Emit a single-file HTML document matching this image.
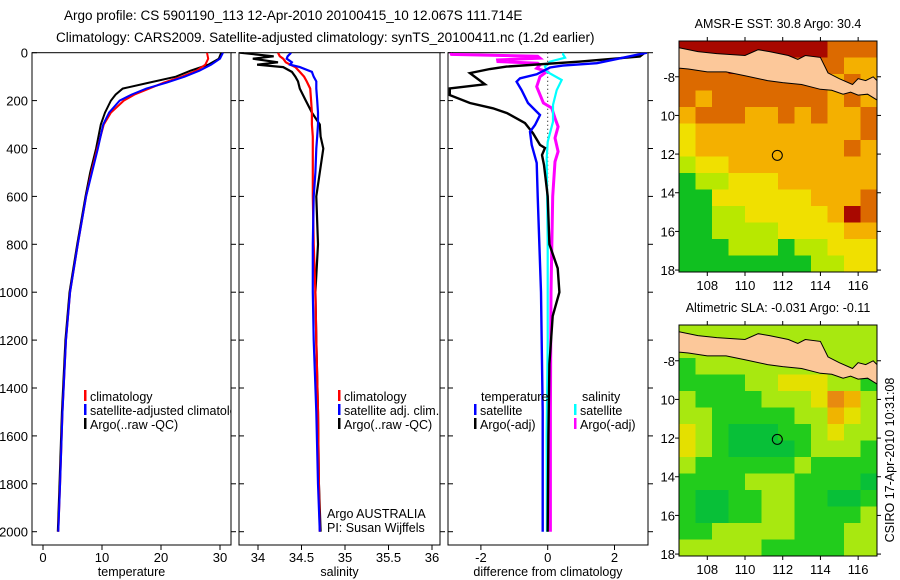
<!DOCTYPE html>
<html><head><meta charset="utf-8">
<style>
html,body{margin:0;padding:0;background:#fff;}
svg{display:block;font-family:"Liberation Sans",sans-serif;}
text{fill:#000;}
</style></head>
<body>
<svg id="chart" width="900" height="580" viewBox="0 0 900 580" xmlns="http://www.w3.org/2000/svg">
<text x="64" y="20" font-size="13.5">Argo profile: CS 5901190_113 12-Apr-2010 20100415_10 12.067S 111.714E</text>
<text x="56" y="42" font-size="13.5">Climatology: CARS2009. Satellite-adjusted climatology: synTS_20100411.nc (1.2d earlier)</text>
<g id="plots"></g>
</svg>
<script>
// ---------- data ----------
const tDepth = [0,25,50,75,100,125,150,175,200,250,300,400,500,600,800,1000,1200,1500,1800,2000];
const tClim  = [27.8,28,27.5,26,23.5,20.5,18,15.5,13.7,11.5,10.3,9.2,8.2,7.3,5.9,4.6,3.9,3.3,2.9,2.6];
const tSat   = [30.5,30,28.5,26.5,24,21,17.5,15,13,11.2,10.2,9.3,8.3,7.3,5.9,4.6,3.9,3.3,2.9,2.6];
const tArgo  = [30.2,29.8,28,25,22.5,18,13.5,12.3,11.5,10.5,9.8,9,8,7.2,5.8,4.5,3.8,3.2,2.8,2.5];

const sDepth = [0,15,25,40,50,60,80,100,120,150,200,250,300,350,400,500,600,800,1000,1200,1500,1800,2000];
const sClim  = [34.23,34.25,34.29,34.32,34.37,34.43,34.48,34.53,34.56,34.60,34.61,34.62,34.62,34.63,34.63,34.63,34.63,34.64,34.66,34.67,34.69,34.70,34.71];
const sSat   = [34.38,34.34,34.33,34.39,34.37,34.48,34.62,34.64,34.67,34.67,34.68,34.69,34.69,34.68,34.67,34.66,34.64,34.63,34.63,34.64,34.67,34.69,34.71];
const sArgo  = [33.79,34.18,33.94,34.23,33.99,34.29,34.39,34.43,34.46,34.48,34.55,34.62,34.71,34.72,34.75,34.71,34.67,34.69,34.66,34.67,34.69,34.70,34.72];

const dTArgoDepth = [0,3,16,37,58,68,85,132,149,177,210,232,252,294,336,385,398,427,469,600,800,900,1000,1100,1300,1600,2000];
const dTArgo      = [2.9,2.88,2.76,0.97,-1.23,-1.73,-2.33,-1.88,-2.93,-2.93,-2.33,-1.64,-1.22,-0.68,-0.44,-0.23,-0.08,-0.17,-0.11,0,0.05,0.3,0.35,0.15,0.05,0.02,0];
const dTSatDepth  = [0,44,54,62,90,107,121,156,210,260,302,330,385,460,600,1000,1500,2000];
const dTSat       = [2.97,1.47,0.45,0.07,-0.33,-0.83,-0.93,-0.78,-0.59,-0.23,-0.38,-0.53,-0.48,-0.33,-0.3,-0.2,-0.15,-0.15];
const dSArgoDepth = [0,7,15,23,30,37,44,51,65,79,100,142,210,231,273,309,356,413,455,600,1000,1500,2000];
const dSArgo      = [-2.9,-2.88,-0.3,-0.23,-1.5,-1.49,-0.3,-0.23,-0.33,-0.03,-0.23,-0.33,-0.13,0.12,0.22,0.31,0.22,0.31,0.22,0.15,0.1,0.08,0.08];
const dSSatDepth  = [0,7,21,37,58,79,114,156,218,288,372,440,800,1200,1600,2000];
const dSSat       = [0.46,0.46,0.52,0.07,-0.08,-0.03,0.42,0.27,0.16,0.16,0,-0.03,0,0,-0.03,-0.02];

const depthTicks = [0,200,400,600,800,1000,1200,1400,1600,1800,2000];
const tempTicks = [0,10,20,30];
const salTicks = [34,34.5,35,35.5,36];
const diffTicks = [-2,0,2];

// map grids (rows top->bottom), digit = colour level
const sstGrid = [
"999999999888","888999888877","888888888787","878888888787","788877878778",
"677777777778","677777777787","566777777777","455666777777","446666667778",
"445566666798","445555666677","444555455666","444444445566"];
const slaGrid = [
"555555555555","555555555555","455555555555","444455666554","544445556875",
"554444455765","654333445655","654333345554","544444454444","444455544443",
"433445544334","433445544445","445555544455","555554444455"];
const lonTicks = [108,110,112,114,116];
const latTicks = [-8,-10,-12,-14,-16,-18];
const argoLon = 111.714, argoLat = -12.067;

// ---------- drawing ----------
const NS="http://www.w3.org/2000/svg";
const root=document.getElementById('plots');
function mk(tag,attrs,parent){const e=document.createElementNS(NS,tag);for(const k in attrs)e.setAttribute(k,attrs[k]);(parent||root).appendChild(e);return e;}

const Y0=52.7, KY=0.2395, PB=545;
const fy=d=>Y0+d*KY;

function panel(name,x0,x1,fx,ticks,label,showY){
  const g=mk('g',{});
  
  
  const fr=mk('rect',{x:x0,y:Y0,width:x1-x0,height:PB-Y0,fill:'none',stroke:'#000','stroke-width':1},g);
  
  
  depthTicks.forEach(d=>{
    const y=fy(d);
    mk('line',{x1:x0,x2:x0+5,y1:y,y2:y,stroke:'#000'},g);
    mk('line',{x1:x1,x2:x1+5,y1:y,y2:y,stroke:'#000'},g);
    if(showY){const t=mk('text',{x:x0-4,y:y+5,'font-size':13,'text-anchor':'end'},g);t.textContent=d;
      }
  });
  ticks.forEach(v=>{
    const x=fx(v);
    mk('line',{x1:x,x2:x,y1:PB,y2:PB+5,stroke:'#000'},g);
    const t=mk('text',{x:x,y:PB+17,'font-size':13,'text-anchor':'middle'},g);t.textContent=v;
    
  });
  const xl=mk('text',{x:(x0+x1)/2,y:576,'font-size':12.5,'text-anchor':'middle'},g);xl.textContent=label;
  
  return g;
}
function series(g,clip,vals,deps,fx,color,w,name){
  const pts=vals.map((v,i)=>fx(v).toFixed(1)+','+fy(deps[i]).toFixed(1)).join(' ');
  const p=mk('polyline',{points:pts,fill:'none',stroke:color,'stroke-width':w,'clip-path':clip,'stroke-linejoin':'miter'},g);
  
  
}
function legend(g,x,y,color,text,name){
  mk('rect',{x:x,y:y-7,width:2.5,height:11,fill:color},g);
  const t=mk('text',{x:x+6,y:y+4,'font-size':12.5},g);t.textContent=text;
  
  
}
const defs=mk('defs',{});
function clipRect(id,x0,x1,y0,y1){const c=mk('clipPath',{id:id},defs);mk('rect',{x:x0,y:y0,width:x1-x0,height:y1-y0},c);}

// panel 1 temperature
const fxT=v=>43+v*5.9;
clipRect('c1',32,231,Y0,PB);
const g1=panel('temperature-panel',32,231,fxT,tempTicks,'temperature',true);
series(g1,'url(#c1)',tArgo,tDepth,fxT,'#000',2,'argo-temperature-line');
series(g1,'url(#c1)',tClim,tDepth,fxT,'#f00',2,'climatology-temperature-line');
series(g1,'url(#c1)',tSat,tDepth,fxT,'#00f',2,'satellite-temperature-line');
const lg1=mk('g',{'clip-path':'url(#c1)'},g1);
legend(lg1,84,397,'#f00','climatology','legend-climatology');
legend(lg1,84,411,'#00f','satellite-adjusted climatology','legend-satellite-adjusted');
legend(lg1,84,425,'#000','Argo(..raw -QC)','legend-argo-raw');

// panel 2 salinity
const fxS=v=>258+(v-34)*87;
clipRect('c2',239,440,Y0,PB);
const g2=panel('salinity-panel',239,440,fxS,salTicks,'salinity',false);
series(g2,'url(#c2)',sArgo,sDepth,fxS,'#000',2.2,'argo-salinity-line');
series(g2,'url(#c2)',sClim,sDepth,fxS,'#f00',2.2,'climatology-salinity-line');
series(g2,'url(#c2)',sSat,sDepth,fxS,'#00f',2.2,'satellite-salinity-line');
legend(g2,338,397,'#f00','climatology','legend-climatology-2');
legend(g2,338,411,'#00f','satellite adj. clim.','legend-satellite-adj-2');
legend(g2,338,425,'#000','Argo(..raw -QC)','legend-argo-raw-2');
const a1=mk('text',{x:327,y:518,'font-size':12.5},g2);a1.textContent='Argo AUSTRALIA';

const a2=mk('text',{x:327,y:532,'font-size':12.5},g2);a2.textContent='PI: Susan Wijffels';


// panel 3 differences
const fxD=v=>547.7+v*33.4;
clipRect('c3',448,648,Y0,PB);
const g3=panel('difference-panel',448,648,fxD,diffTicks,'difference from climatology',false);
mk('line',{x1:fxD(0),x2:fxD(0),y1:Y0,y2:fy(2000),stroke:'#000','stroke-dasharray':'1,3'},g3);
series(g3,'url(#c3)',dSArgo,dSArgoDepth,fxD,'#f0f',3,'salinity-argo-diff-line');
series(g3,'url(#c3)',dSSat,dSSatDepth,fxD,'#0ff',2.2,'salinity-satellite-diff-line');
series(g3,'url(#c3)',dTArgo,dTArgoDepth,fxD,'#000',2.4,'temperature-argo-diff-line');
series(g3,'url(#c3)',dTSat,dTSatDepth,fxD,'#00f',2.4,'temperature-satellite-diff-line');
const lt=mk('text',{x:481,y:401,'font-size':12.5},g3);lt.textContent='temperature';

const ls=mk('text',{x:582,y:401,'font-size':12.5},g3);ls.textContent='salinity';

legend(g3,474,411,'#00f','satellite','legend-temp-satellite');
legend(g3,474,425,'#000','Argo(-adj)','legend-temp-argo');
legend(g3,574,411,'#0ff','satellite','legend-sal-satellite');
legend(g3,574,425,'#f0f','Argo(-adj)','legend-sal-argo');

// ---------- maps ----------
const sstCols={4:'#10c020',5:'#b8e800',6:'#f0e000',7:'#f4b000',8:'#dc6a00',9:'#a80800'};
const slaCols={3:'#08c038',4:'#22cc1c',5:'#a8e810',6:'#e4e000',7:'#f0b400',8:'#e88a10'};
const LON0=106.5,LON1=117,LAT0=-6.15,LAT1=-18.1;
const MX0=679,MX1=877;
const landPts=[[106.5,-6.5],[107.5,-6.7],[108.5,-6.8],[109.2,-6.85],[110.0,-6.9],[110.7,-6.6],[111.3,-6.7],[112.3,-6.9],[112.8,-7.1],[113.2,-6.9],[114.0,-7.0],[114.4,-7.8],[115.0,-8.1],[115.7,-8.4],[116.0,-8.1],[116.4,-8.2],[116.8,-8.0],[117,-8.2],[117,-9.2],[116.5,-8.9],[116.0,-8.95],[115.6,-8.8],[115.2,-8.9],[114.6,-8.7],[114.0,-8.65],[113.0,-8.4],[112.0,-8.3],[111.2,-8.2],[110.0,-7.95],[109.0,-7.75],[108.0,-7.75],[107.0,-7.6],[106.5,-7.55]];
function map(name,top,grid,cols,title){
  const h=231, y0=top, y1=top+h;
  const fx=lon=>MX0+(lon-LON0)/(LON1-LON0)*(MX1-MX0);
  const fyM=lat=>y0+(lat-LAT0)/(LAT1-LAT0)*h;
  const g=mk('g',{});
  
  
  const cid='mc'+top;clipRect(cid,MX0,MX1,y0,y1);
  const cg=mk('g',{'clip-path':'url(#'+cid+')'},g);
  const nr=grid.length,nc=grid[0].length,cw=(MX1-MX0)/nc,ch=h/nr;
  grid.forEach((row,r)=>{[...row].forEach((c,i)=>{
    const cell=mk('rect',{x:MX0+i*cw,y:y0+r*ch,width:cw+0.6,height:ch+0.6,fill:cols[c]},cg);
    
    
  });});
  const land=mk('polygon',{points:landPts.map(p=>fx(p[0]).toFixed(1)+','+fyM(p[1]).toFixed(1)).join(' '),fill:'#fcc89a',stroke:'#000','stroke-width':1},cg);
  
  
  const fr=mk('rect',{x:MX0,y:y0,width:MX1-MX0,height:h,fill:'none',stroke:'#000'},g);
  
  const circ=mk('circle',{cx:fx(argoLon),cy:fyM(argoLat),r:5,fill:'none',stroke:'#000','stroke-width':1},g);
  
  lonTicks.forEach(l=>{const x=fx(l);
    mk('line',{x1:x,x2:x,y1:y1,y2:y1+4,stroke:'#000'},g);
    mk('line',{x1:x,x2:x,y1:y0-4,y2:y0,stroke:'#000'},g);
    const t=mk('text',{x:x,y:y1+18,'font-size':13,'text-anchor':'middle'},g);t.textContent=l;
    });
  latTicks.forEach(l=>{const y=fyM(l);
    mk('line',{x1:MX0-4,x2:MX0,y1:y,y2:y,stroke:'#000'},g);
    mk('line',{x1:MX1,x2:MX1+4,y1:y,y2:y,stroke:'#000'},g);
    const t=mk('text',{x:MX0-4,y:y+5,'font-size':13,'text-anchor':'end'},g);t.textContent=(l===-8?'-8':String(-l));
    });
  const tt=mk('text',{x:778,y:top-13,'font-size':12.5,'text-anchor':'middle'},g);tt.textContent=title;
  
}
map('sst-map',41,sstGrid,sstCols,'AMSR-E SST: 30.8 Argo: 30.4');
map('sla-map',325,slaGrid,slaCols,'Altimetric SLA: -0.031 Argo: -0.11');
const cs=mk('text',{x:0,y:0,'font-size':12.5,'text-anchor':'middle',transform:'translate(894,460) rotate(-90)'});
cs.textContent='CSIRO 17-Apr-2010 10:31:08';

</script>
</body></html>
